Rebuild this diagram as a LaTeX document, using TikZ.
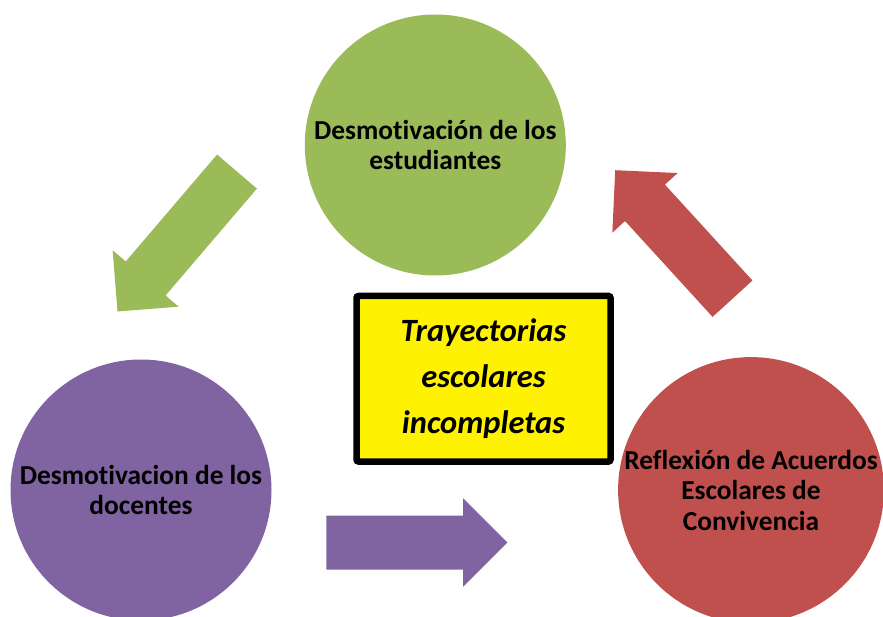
\documentclass[tikz,border=0pt]{standalone}
\usepackage{fontspec}
\setmainfont{Carlito}[Ligatures={NoCommon}]
\usetikzlibrary{shapes.arrows}
\definecolor{stageGreen}{HTML}{9BBB59}
\definecolor{stagePurple}{HTML}{8064A2}
\definecolor{stageRed}{HTML}{C0504D}

\begin{document}
\begin{tikzpicture}[x=1pt, y=-1pt,
    stage/.style={circle, minimum size=261pt, inner sep=0pt, align=center, font=\bfseries\fontsize{27.4}{30.5}\selectfont},
    core/.style={rectangle, draw=black, line width=6.5pt, rounded corners=2pt, fill=yellow, minimum width=254pt, minimum height=165.5pt, align=center, font=\bfseries\itshape\fontsize{32.5}{46}\selectfont},
    flow/.style={single arrow, inner xsep=0pt, inner ysep=26.8pt, single arrow head extend=17.2pt, minimum height=#1, anchor=tip}
]
\useasboundingbox (0,0) rectangle (883,617);

% Stages
\node[stage, fill=stageGreen] (estudiantes) at (435.3,145) {Desmotivación de los\\estudiantes};
\node[stage, fill=stagePurple] (docentes) at (141,490) {Desmotivacion de los\\docentes};
\node[stage, fill=stageRed] (acuerdos) at (751,490) {Reflexión de Acuerdos\\Escolares de\\Convivencia};

% Centre
\node[core] (trayectorias) at (483.5,378.75) {Trayectorias\\escolares\\incompletas};

% Flow arrows
\node[flow=184pt, fill=stageGreen, rotate=229.5, inner ysep=26pt] (toDocentes) at (117.3,311.7) {};
\node[flow=181pt, fill=stagePurple] (toAcuerdos) at (507.7,542.5) {};
\node[flow=174pt, fill=stageRed, rotate=132.4] (toEstudiantes) at (615,170) {};

\end{tikzpicture}
\end{document}
